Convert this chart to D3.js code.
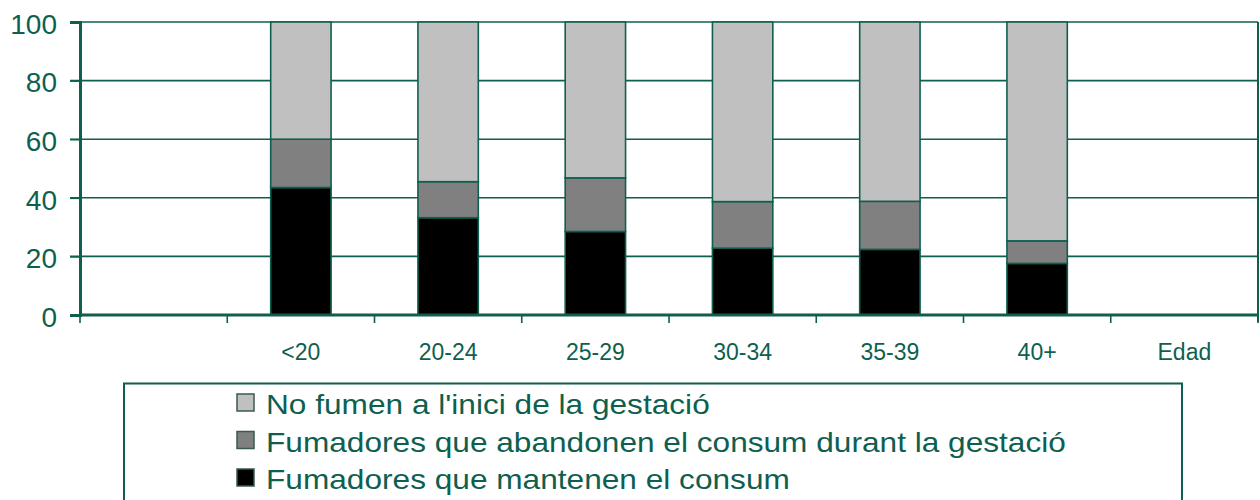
<!DOCTYPE html>
<html>
<head>
<meta charset="utf-8">
<script src="https://cdn.jsdelivr.net/npm/d3@7"></script>
<style>
  body { margin: 0; background: #fff; }
  text { font-family: "Liberation Sans", Arial, sans-serif; fill: #0f5f4f; }
</style>
</head>
<body>
<script>
var width = 1260;
var height = 500;
var green = "#0f5f4f";

// axis labels (first slot empty, last slot is the axis title)
var axisLabels = ["", "<20", "20-24", "25-29", "30-34", "35-39", "40+", "Edad"];
var ageGroups = ["<20", "20-24", "25-29", "30-34", "35-39", "40+"];
var yTicks = [0, 20, 40, 60, 80, 100];

// percentages
var mantenen = [43.5, 33.2, 28.5, 22.8, 22.4, 17.6];
var abandonen = [16.5, 12.3, 18.3, 15.9, 16.4, 7.7];
var noFumen = [40.0, 54.5, 53.2, 61.3, 61.2, 74.7];

var seriesNames = [
    "No fumen a l'inici de la gestació",
    "Fumadores que abandonen el consum durant la gestació",
    "Fumadores que mantenen el consum"
];
var seriesColors = ["#c0c0c0", "#808080", "#000000"];

var svg = d3.select("body")
    .append("svg")
    .attr("width", width)
    .attr("height", height);

var x = d3.scaleBand()
    .domain(axisLabels)
    .range([80, 1258]);

var y = d3.scaleLinear()
    .domain([0, 100])
    .range([315, 22]);

// grid lines
svg.append("g")
    .selectAll("line")
    .data(yTicks.slice(1))
    .enter().append("line")
    .attr("x1", 70)
    .attr("x2", 1258)
    .attr("y1", function(d) { return y(d); })
    .attr("y2", function(d) { return y(d); })
    .attr("stroke", green)
    .attr("stroke-width", 1.6);

// right border
svg.append("line")
    .attr("x1", 1258).attr("x2", 1258)
    .attr("y1", y(100)).attr("y2", 322)
    .attr("stroke", green)
    .attr("stroke-width", 2);

// stacked bars
var rows = ageGroups.map(function(g, i) {
    return { group: g, m: mantenen[i], a: abandonen[i], n: noFumen[i] };
});
var stack = d3.stack().keys(["m", "a", "n"]);
var layers = stack(rows);
var layerColors = [seriesColors[2], seriesColors[1], seriesColors[0]];
var barW = x.bandwidth() * 0.41;

svg.append("g")
    .selectAll("g")
    .data(layers)
    .enter().append("g")
    .attr("fill", function(d, i) { return layerColors[i]; })
    .selectAll("rect")
    .data(function(d) { return d; })
    .enter().append("rect")
    .attr("x", function(d) { return x(d.data.group) + (x.bandwidth() - barW) / 2; })
    .attr("y", function(d) { return y(d[1]); })
    .attr("width", barW)
    .attr("height", function(d) { return y(d[0]) - y(d[1]); })
    .attr("stroke", green)
    .attr("stroke-width", 1.6);

// y axis
var yAxis = svg.append("g")
    .attr("transform", "translate(80,0)")
    .call(d3.axisLeft(y).tickValues(yTicks).tickSize(10).tickPadding(13));
yAxis.select(".domain").attr("stroke", green).attr("stroke-width", 3);
yAxis.selectAll(".tick line").attr("stroke", green).attr("stroke-width", 1.6);
yAxis.selectAll(".tick text")
    .attr("font-size", 28)
    .attr("fill", green)
    .attr("dy", "0.4em");

// x axis line and ticks at category boundaries
svg.append("line")
    .attr("x1", 80).attr("x2", 1258)
    .attr("y1", 315).attr("y2", 315)
    .attr("stroke", green)
    .attr("stroke-width", 3);

var bounds = axisLabels.map(function(c) { return x(c); }).concat([x.range()[1]]);
svg.append("g")
    .selectAll("line")
    .data(bounds)
    .enter().append("line")
    .attr("x1", function(d) { return d; })
    .attr("x2", function(d) { return d; })
    .attr("y1", 315)
    .attr("y2", 323)
    .attr("stroke", green)
    .attr("stroke-width", 1.6);

svg.append("g")
    .selectAll("text")
    .data(axisLabels)
    .enter().append("text")
    .attr("x", function(d) { return x(d) + x.bandwidth() / 2; })
    .attr("y", 360)
    .attr("text-anchor", "middle")
    .attr("font-size", 23)
    .text(function(d) { return d; });

// legend
var legend = svg.append("g");
legend.append("rect")
    .attr("x", 124)
    .attr("y", 383.5)
    .attr("width", 1058)
    .attr("height", 200)
    .attr("fill", "none")
    .attr("stroke", green)
    .attr("stroke-width", 2);

var item = legend.selectAll("g.item")
    .data(seriesNames)
    .enter().append("g")
    .attr("class", "item")
    .attr("transform", function(d, i) { return "translate(0," + (i * 37.5) + ")"; });

item.append("rect")
    .attr("x", 237)
    .attr("y", 394)
    .attr("width", 17)
    .attr("height", 17)
    .attr("fill", function(d, i) { return seriesColors[i]; })
    .attr("stroke", "#3a5a50")
    .attr("stroke-width", 1.5);

item.append("text")
    .attr("transform", "translate(266,414) scale(1.13,1)")
    .attr("font-size", 28)
    .text(function(d) { return d; });
</script>
</body>
</html>
